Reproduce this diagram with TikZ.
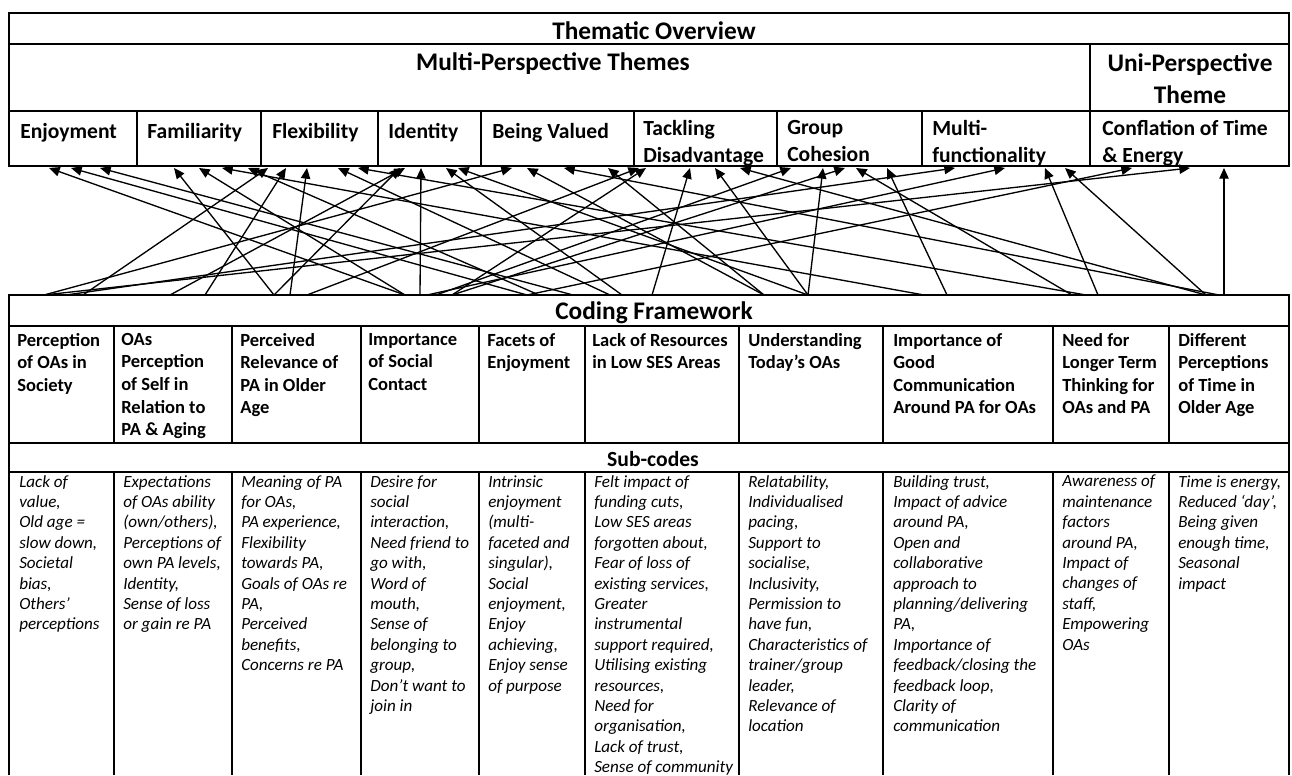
\documentclass[tikz,border=0pt]{standalone}
\usepackage{fontspec}
\setmainfont{Carlito}
\usetikzlibrary{positioning, calc, arrows.meta}
\tikzset{grid/.style={line width=1.1pt}}
\tikzset{link/.style={line width=1pt, -{Triangle[length=8pt, width=7pt]}}}
\tikzset{head/.style={font=\fontsize{19}{24}\selectfont\bfseries, inner sep=0pt}}
\tikzset{theme/.style={font=\fontsize{16.2}{20}\selectfont\bfseries, inner sep=0pt, anchor=north west, align=left, execute at begin node=\strut}}
\tikzset{code/.style={font=\fontsize{13.9}{16.9}\selectfont\bfseries, inner sep=0pt, anchor=north west, align=left, execute at begin node=\strut}}
\tikzset{subcode/.style={font=\fontsize{12.8}{15.3}\selectfont\itshape, inner sep=0pt, anchor=north west, align=left, execute at begin node=\strut}}

\begin{document}
\begin{tikzpicture}[x=0.75pt, y=-0.75pt]
  \useasboundingbox (0,0) rectangle (1292,775);

  % thematic overview table
  \draw[grid] (9,13) rectangle (1289,166);
  \draw[grid] (9,44) -- (1289,44);
  \draw[grid] (9,111) -- (1289,111);
  \draw[grid] (1090,44) -- (1090,166);
  \foreach \x in {137,261,378,481,634,777,922}
    \draw[grid] (\x,111) -- (\x,166);

  \node[head, anchor=base] (overview) at (654,39) {Thematic Overview};
  \node[head, anchor=base] (multi) at (553,70) {Multi-Perspective Themes};
  \node[head, anchor=north, align=center, execute at begin node=\strut] (uni) at (1190,53) {Uni-Perspective\\Theme};

  \node[theme] (enjoy) at (20,120) {Enjoyment};
  \node[theme] (famil) at (147,120) {Familiarity};
  \node[theme] (flex) at (272,120) {Flexibility};
  \node[theme] (ident) at (388,120) {Identity};
  \node[theme] (valued) at (492,120) {Being Valued};
  \node[theme] (tackle) at (643,120) {Tackling\\Disadvantage};
  \node[theme] (cohes) at (787,120) {Group\\Cohesion};
  \node[theme] (mfunc) at (932,120) {Multi-\\functionality};
  \node[theme] (confl) at (1102,120) {Conflation of Time\\\& Energy};

  % coding framework table
  \draw[grid] (9,775) -- (9,295) -- (1289,295) -- (1289,775);
  \draw[grid] (9,326) -- (1289,326);
  \draw[grid] (9,443) -- (1289,443);
  \draw[grid] (9,472) -- (1289,472);
  \foreach \x in {114,232,361,479,585,739,883,1053,1169} {
    \draw[grid] (\x,326) -- (\x,443);
    \draw[grid] (\x,472) -- (\x,775);
  }

  \node[head, anchor=base] (coding) at (654,319) {Coding Framework};
  \node[font=\fontsize{16.2}{20}\selectfont\bfseries, inner sep=0pt, anchor=base] (subhead) at (653,466) {Sub-codes};

  \node[code] (c1) at (17,333) {Perception\\of OAs in\\Society};
  \node[code] (c2) at (121,333) {OAs\\Perception\\of Self in\\Relation to\\PA \& Aging};
  \node[code] (c3) at (240,333) {Perceived\\Relevance of\\PA in Older\\Age};
  \node[code] (c4) at (368,333) {Importance\\of Social\\Contact};
  \node[code] (c5) at (487,333) {Facets of\\Enjoyment};
  \node[code] (c6) at (592,333) {Lack of Resources\\in Low SES Areas};
  \node[code] (c7) at (748,333) {Understanding\\Today’s OAs};
  \node[code] (c8) at (893,333) {Importance of\\Good\\Communication\\Around PA for OAs};
  \node[code] (c9) at (1062,333) {Need for\\Longer Term\\Thinking for\\OAs and PA};
  \node[code] (c10) at (1178,333) {Different\\Perceptions\\of Time in\\Older Age};

  \node[subcode] (sc1) at (19,475) {Lack of\\value,\\Old age =\\slow down,\\Societal\\bias,\\Others’\\perceptions};
  \node[subcode] (sc2) at (123,475) {Expectations\\of OAs ability\\(own/others),\\Perceptions of\\own PA levels,\\Identity,\\Sense of loss\\or gain re PA};
  \node[subcode] (sc3) at (241,475) {Meaning of PA\\for OAs,\\PA experience,\\Flexibility\\towards PA,\\Goals of OAs re\\PA,\\Perceived\\benefits,\\Concerns re PA};
  \node[subcode] (sc4) at (370,475) {Desire for\\social\\interaction,\\Need friend to\\go with,\\Word of\\mouth,\\Sense of\\belonging to\\group,\\Don’t want to\\join in};
  \node[subcode] (sc5) at (488,475) {Intrinsic\\enjoyment\\(multi-\\faceted and\\singular),\\Social\\enjoyment,\\Enjoy\\achieving,\\Enjoy sense\\of purpose};
  \node[subcode] (sc6) at (594,475) {Felt impact of\\funding cuts,\\Low SES areas\\forgotten about,\\Fear of loss of\\existing services,\\Greater\\instrumental\\support required,\\Utilising existing\\resources,\\Need for\\organisation,\\Lack of trust,\\Sense of community};
  \node[subcode] (sc7) at (748,475) {Relatability,\\Individualised\\pacing,\\Support to\\socialise,\\Inclusivity,\\Permission to\\have fun,\\Characteristics of\\trainer/group\\leader,\\Relevance of\\location};
  \node[subcode] (sc8) at (893,475) {Building trust,\\Impact of advice\\around PA,\\Open and\\collaborative\\approach to\\planning/delivering\\PA,\\Importance of\\feedback/closing the\\feedback loop,\\Clarity of\\communication};
  \node[subcode] (sc9) at (1062,475) {Awareness of\\maintenance\\factors\\around PA,\\Impact of\\changes of\\staff,\\Empowering\\OAs};
  \node[subcode] (sc10) at (1178,475) {Time is energy,\\Reduced ‘day’,\\Being given\\enough time,\\Seasonal\\impact};

  % arrow ends: tips under the themes, starts on the framework
  \foreach \x [count=\i] in {49,71,100,174,199,222,248,268,286,307,338,358,400,405,421,446,458,512,527,564,608,639,646,690,715,740,791,823,845,856,887,955,1005,1045,1065,1132,1190,1224}
    \coordinate (t\i) at (\x,168);
  \foreach \x [count=\i] in {44,66,83,170,205,274,290,307,405,420,427,436,452,527,539,573,610,622,652,764,808,924,947,1072,1086,1098,1206,1219,1224}
    \coordinate (s\i) at (\x,295);

  \foreach \a/\b in {s9/t1, s14/t2, s16/t3, s6/t4, s9/t5, s22/t6, s15/t7, s3/t8, s5/t9, s7/t10,
      s17/t11, s25/t12, s6/t13, s4/t14, s10/t15, s18/t16, s21/t17, s1/t18, s20/t19, s28/t20,
      s20/t21, s8/t22, s13/t23, s19/t24, s21/t25, s27/t26, s12/t27, s21/t28, s13/t29, s24/t30,
      s23/t31, s2/t32, s11/t33, s26/t34, s27/t35, s14/t36, s1/t37, s29/t38}
    \draw[link] (\a) -- (\b);
\end{tikzpicture}
\end{document}
